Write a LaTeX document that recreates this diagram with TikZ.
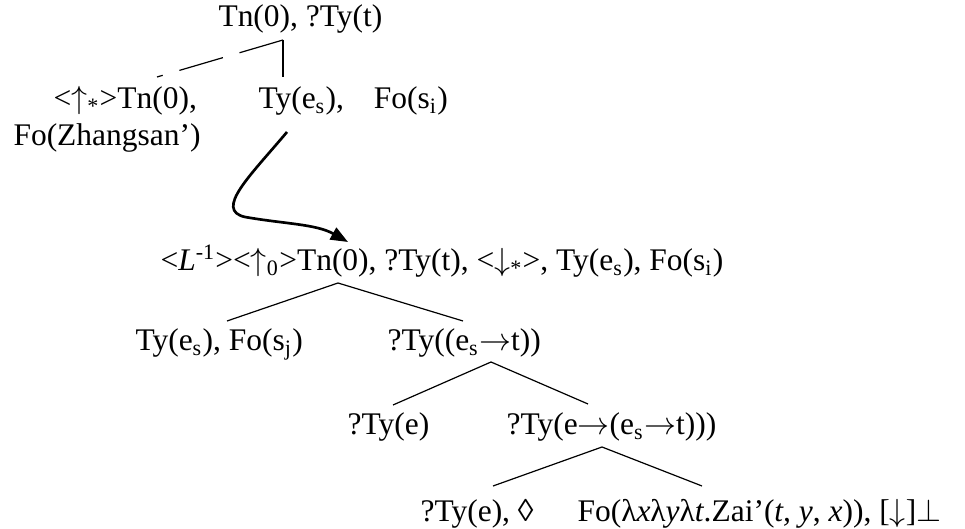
\documentclass[tikz,border=0pt]{standalone}
\usepackage{fontspec}
\setmainfont{Liberation Serif}
\usetikzlibrary{arrows.meta}

\newcommand{\dsub}[1]{\textsubscript{#1}}

\begin{document}
\begin{tikzpicture}[
  x=0.375pt, y=-0.375pt,
  lbl/.style={anchor=base west, inner sep=0pt, font=\fontsize{11.8}{14}\selectfont},
  edge/.style={line width=0.45pt},
  link/.style={line width=0.45pt, dash pattern=on 17pt off 6.5pt},
  jump/.style={line width=1pt, -{Triangle[length=6.5pt, width=5pt]}}
]
\useasboundingbox (0,0) rectangle (965,529);

% --- Starting tree ---
\node[lbl] (root) at (218,27) {Tn(0), ?Ty(t)};
\node[lbl] (unf) at (53,109) {<$\uparrow$\dsub{*}>Tn(0),};
\node[lbl] (zs) at (13,146) {Fo(Zhangsan’)};
\node[lbl] (arg) at (258,109) {Ty(e\dsub{s}),\hspace{0.95em}Fo(s\dsub{i})};

% --- Linked tree ---
\node[lbl] (lnk) at (160,271) {<\textit{L}\textsuperscript{-1}><$\uparrow$\dsub{0}>Tn(0), ?Ty(t), <$\downarrow$\dsub{*}>, Ty(e\dsub{s}), Fo(s\dsub{i})};
\node[lbl] (subj) at (135,351) {Ty(e\dsub{s}), Fo(s\dsub{j})};
\node[lbl] (pred) at (387,351) {?Ty((e\dsub{s}$\rightarrow$t))};
\node[lbl] (obj) at (347,435) {?Ty(e)};
\node[lbl] (tv) at (506,435) {?Ty(e$\rightarrow$(e\dsub{s}$\rightarrow$t)))};
\node[lbl] (ptr) at (420,521) {?Ty(e), ◊};
\node[lbl] (fn) at (577,521) {Fo(λ\textit{x}λ\textit{y}λ\textit{t}.Zai’(\textit{t, y}, \textit{x})), [$\downarrow$]$\bot$};

% --- Branch points ---
\coordinate (root-b) at (283,40);
\coordinate (unf-t) at (157,77);
\coordinate (arg-t) at (283,77);
\coordinate (arg-b) at (287,132);
\coordinate (lnk-t) at (348,242);
\coordinate (lnk-b) at (338,283);
\coordinate (subj-t) at (227,321);
\coordinate (pred-t) at (463,321);
\coordinate (pred-b) at (491,362);
\coordinate (obj-t) at (393,405);
\coordinate (tv-t) at (588,404);
\coordinate (tv-b) at (602,447);
\coordinate (ptr-t) at (493,486);
\coordinate (fn-t) at (702,486);

% --- Edges ---
\draw[link] (root-b) -- (unf-t);
\draw[edge] (root-b) -- (arg-t);
\draw[edge] (lnk-b) -- (subj-t);
\draw[edge] (lnk-b) -- (pred-t);
\draw[edge] (pred-b) -- (obj-t);
\draw[edge] (pred-b) -- (tv-t);
\draw[edge] (tv-b) -- (ptr-t);
\draw[edge] (tv-b) -- (fn-t);

% --- LINK arrow ---
\draw[jump] (arg-b) .. controls (250,176) and (214,210) .. (245,217)
  .. controls (285,224) and (316,224) .. (lnk-t);

\end{tikzpicture}
\end{document}
